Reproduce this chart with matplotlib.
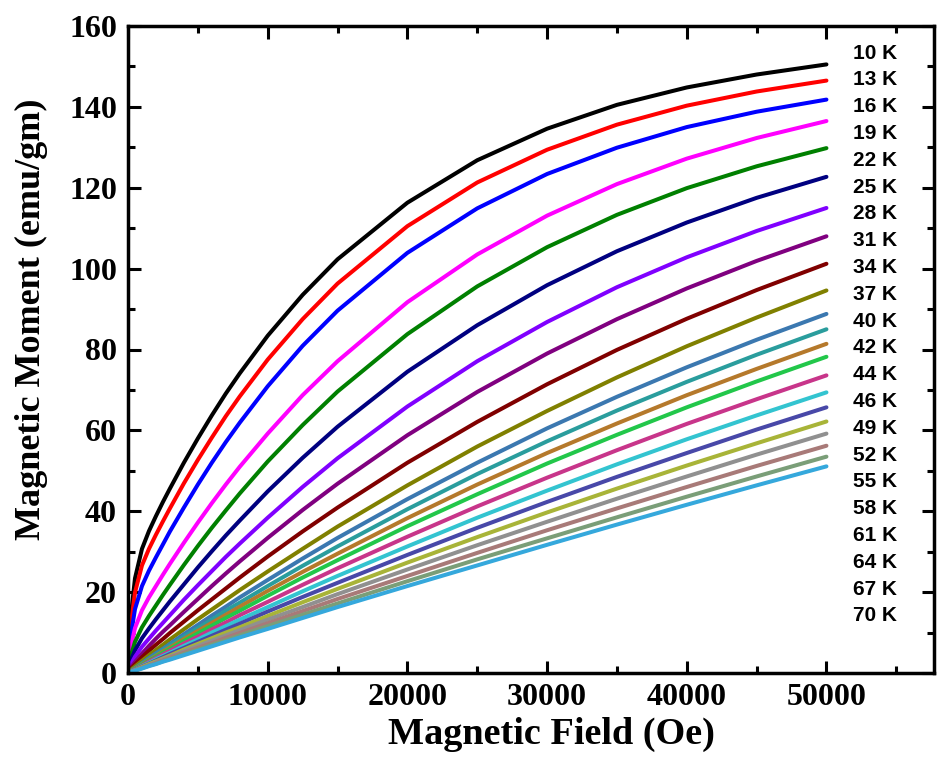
#!/usr/bin/env python3
"""Isothermal magnetization M(H) curves, 10 K to 70 K."""

import matplotlib

matplotlib.use("Agg")
import matplotlib.pyplot as plt
from matplotlib.ticker import MultipleLocator

# applied field (Oe), shared by every isotherm
field_oe = [0, 250, 500, 1000, 1500, 2000, 2500, 3000, 4000, 5000, 6000, 7000, 8000,
            10000, 12500, 15000, 20000, 25000, 30000, 35000, 40000, 45000, 50000]

# magnetic moment (emu/gm) per temperature
m_10k = [0, 15.5, 23.4, 30.7, 35.1, 38.8, 42.3, 45.6, 52.0, 58.0, 63.7, 69.1, 74.1, 83.4, 93.5, 102.3, 116.3, 126.8, 134.6, 140.5, 144.8, 148.0, 150.5]
m_13k = [0, 13.2, 19.9, 26.6, 30.7, 34.2, 37.5, 40.7, 46.9, 52.7, 58.2, 63.5, 68.4, 77.5, 87.5, 96.3, 110.5, 121.3, 129.4, 135.6, 140.3, 143.8, 146.5]
m_16k = [0, 10.3, 15.8, 21.5, 25.3, 28.6, 31.8, 35.0, 40.9, 46.6, 52.0, 57.1, 61.9, 70.9, 80.9, 89.6, 103.9, 114.9, 123.4, 129.9, 135.0, 138.8, 141.8]
m_19k = [0, 7.2, 11.1, 15.5, 18.7, 21.5, 24.3, 27.0, 32.2, 37.2, 42.0, 46.6, 51.0, 59.2, 68.7, 77.1, 91.7, 103.5, 113.1, 120.9, 127.2, 132.3, 136.5]
m_22k = [0, 4.8, 7.7, 11.3, 14.1, 16.7, 19.3, 21.8, 26.7, 31.4, 35.9, 40.2, 44.4, 52.3, 61.3, 69.6, 83.8, 95.6, 105.3, 113.3, 119.9, 125.3, 129.8]
m_25k = [0, 3.5, 5.6, 8.6, 11.0, 13.3, 15.5, 17.7, 21.9, 26.1, 30.1, 34.0, 37.7, 44.9, 53.2, 60.9, 74.5, 86.0, 95.9, 104.3, 111.4, 117.5, 122.7]
m_28k = [0, 2.4, 4.0, 6.5, 8.5, 10.5, 12.4, 14.3, 18.1, 21.7, 25.2, 28.7, 32.0, 38.4, 46.0, 53.1, 65.9, 77.1, 86.8, 95.4, 102.8, 109.3, 115.0]
m_31k = [0, 1.5, 2.7, 4.8, 6.7, 8.5, 10.2, 11.8, 15.1, 18.3, 21.5, 24.6, 27.6, 33.4, 40.3, 46.8, 58.8, 69.5, 79.0, 87.5, 95.1, 101.9, 108.0]
m_34k = [0, 1.2, 2.1, 3.9, 5.5, 7.0, 8.4, 9.9, 12.7, 15.5, 18.2, 20.9, 23.6, 28.8, 35.0, 40.9, 52.0, 62.1, 71.4, 79.9, 87.6, 94.7, 101.2]
m_37k = [0, 0.9, 1.6, 3.0, 4.4, 5.7, 7.0, 8.3, 10.8, 13.3, 15.7, 18.1, 20.5, 25.1, 30.7, 36.2, 46.4, 56.0, 64.8, 73.1, 80.8, 87.9, 94.6]
m_40k = [0, 0.6, 1.2, 2.4, 3.7, 4.9, 6.0, 7.2, 9.6, 11.9, 14.2, 16.4, 18.7, 23.0, 28.3, 33.4, 43.0, 52.0, 60.5, 68.3, 75.6, 82.4, 88.8]
m_42k = [0, 0.6, 1.1, 2.3, 3.4, 4.5, 5.7, 6.8, 9.0, 11.1, 13.2, 15.4, 17.4, 21.5, 26.5, 31.3, 40.5, 49.2, 57.3, 64.9, 72.0, 78.7, 85.0]
m_44k = [0, 0.5, 1.1, 2.1, 3.2, 4.2, 5.3, 6.3, 8.4, 10.4, 12.4, 14.4, 16.4, 20.3, 25.0, 29.5, 38.3, 46.6, 54.4, 61.7, 68.7, 75.2, 81.4]
m_46k = [0, 0.5, 1.0, 2.0, 3.0, 4.0, 5.0, 5.9, 7.9, 9.8, 11.7, 13.6, 15.4, 19.1, 23.6, 27.9, 36.3, 44.2, 51.8, 58.9, 65.7, 72.1, 78.2]
m_49k = [0, 0.5, 0.9, 1.8, 2.8, 3.7, 4.6, 5.5, 7.3, 9.0, 10.8, 12.5, 14.3, 17.6, 21.8, 25.9, 33.7, 41.2, 48.3, 55.1, 61.6, 67.7, 73.6]
m_52k = [0, 0.4, 0.8, 1.7, 2.5, 3.4, 4.2, 5.0, 6.7, 8.3, 10.0, 11.6, 13.2, 16.3, 20.2, 24.0, 31.3, 38.4, 45.1, 51.6, 57.8, 63.7, 69.4]
m_55k = [0, 0.4, 0.8, 1.6, 2.3, 3.1, 3.9, 4.7, 6.2, 7.7, 9.2, 10.7, 12.2, 15.2, 18.8, 22.3, 29.2, 35.9, 42.3, 48.5, 54.4, 60.2, 65.7]
m_58k = [0, 0.4, 0.7, 1.5, 2.2, 2.9, 3.6, 4.3, 5.8, 7.2, 8.6, 10.0, 11.3, 14.1, 17.5, 20.8, 27.3, 33.6, 39.7, 45.6, 51.3, 56.8, 62.2]
m_61k = [0, 0.3, 0.7, 1.3, 2.0, 2.7, 3.4, 4.0, 5.4, 6.7, 8.0, 9.3, 10.6, 13.2, 16.3, 19.5, 25.6, 31.6, 37.4, 43.1, 48.6, 54.0, 59.2]
m_64k = [0, 0.3, 0.6, 1.3, 1.9, 2.5, 3.1, 3.8, 5.0, 6.2, 7.4, 8.7, 9.9, 12.3, 15.3, 18.3, 24.0, 29.7, 35.3, 40.7, 46.0, 51.2, 56.2]
m_67k = [0, 0.3, 0.6, 1.2, 1.8, 2.3, 2.9, 3.5, 4.7, 5.8, 7.0, 8.1, 9.3, 11.6, 14.4, 17.2, 22.7, 28.1, 33.3, 38.5, 43.6, 48.6, 53.5]
m_70k = [0, 0.3, 0.6, 1.1, 1.7, 2.2, 2.8, 3.3, 4.4, 5.5, 6.6, 7.7, 8.8, 10.9, 13.6, 16.3, 21.5, 26.6, 31.7, 36.7, 41.6, 46.4, 51.1]

temps_k = [10, 13, 16, 19, 22, 25, 28, 31, 34, 37, 40, 42, 44, 46, 49, 52, 55, 58, 61, 64, 67, 70]
moments = [m_10k, m_13k, m_16k, m_19k, m_22k, m_25k, m_28k, m_31k, m_34k, m_37k, m_40k,
           m_42k, m_44k, m_46k, m_49k, m_52k, m_55k, m_58k, m_61k, m_64k, m_67k, m_70k]
colors = ["#000000", "#FF0000", "#0000FF", "#FF00FF", "#008000", "#000080", "#8000FF",
          "#800080", "#800000", "#808000", "#3B78B0", "#2A9D9D", "#B5792B", "#22C74A",
          "#C8358A", "#33C4D0", "#4848A8", "#A8B438", "#909090", "#A87A78", "#7A9E78",
          "#35A8DC"]

SERIF = "Liberation Serif"
SANS = "Liberation Sans"


def main() -> None:
    fig = plt.figure(figsize=(9.38, 7.71), dpi=100)
    ax = fig.add_axes([128 / 938, 98 / 771, 806 / 938, 647 / 771])

    for temp, moment, color in zip(temps_k, moments, colors):
        ax.plot(field_oe, moment, color=color, linewidth=2.9, solid_capstyle="round",
                solid_joinstyle="round", label=f"{temp} K")

    ax.set_xlim(0, 57700)
    ax.set_ylim(0, 160)
    ax.xaxis.set_major_locator(MultipleLocator(10000))
    ax.xaxis.set_minor_locator(MultipleLocator(5000))
    ax.yaxis.set_major_locator(MultipleLocator(20))
    ax.yaxis.set_minor_locator(MultipleLocator(10))
    ax.tick_params(which="both", direction="in", top=True, right=True, width=2.2)
    ax.tick_params(which="major", length=9)
    ax.tick_params(which="minor", length=5)
    ax.tick_params(axis="x", pad=7)
    ax.tick_params(axis="y", pad=8)
    for spine in ax.spines.values():
        spine.set_linewidth(2.5)
    for lab in ax.get_xticklabels() + ax.get_yticklabels():
        lab.set_fontfamily(SERIF)
        lab.set_fontweight("bold")
        lab.set_fontsize(23)

    ax.set_xlabel("Magnetic Field (Oe)", fontfamily=SERIF, fontweight="bold", fontsize=27.5)
    ax.set_ylabel("Magnetic Moment (emu/gm)", fontfamily=SERIF, fontweight="bold", fontsize=26)
    ax.xaxis.label.set_verticalalignment("center")
    ax.xaxis.set_label_coords(0.525, -0.095)
    ax.yaxis.set_label_coords(-0.099, 0.547)

    # temperature key, one row per isotherm, no handles
    for i, temp in enumerate(temps_k):
        ax.text(0.900, 0.958 - i * 0.04142, f"{temp} K", transform=ax.transAxes,
                ha="left", va="center", fontfamily=SANS, fontweight="bold", fontsize=15)

    fig.savefig("out.png", dpi=100)
    plt.close(fig)


if __name__ == "__main__":
    main()
